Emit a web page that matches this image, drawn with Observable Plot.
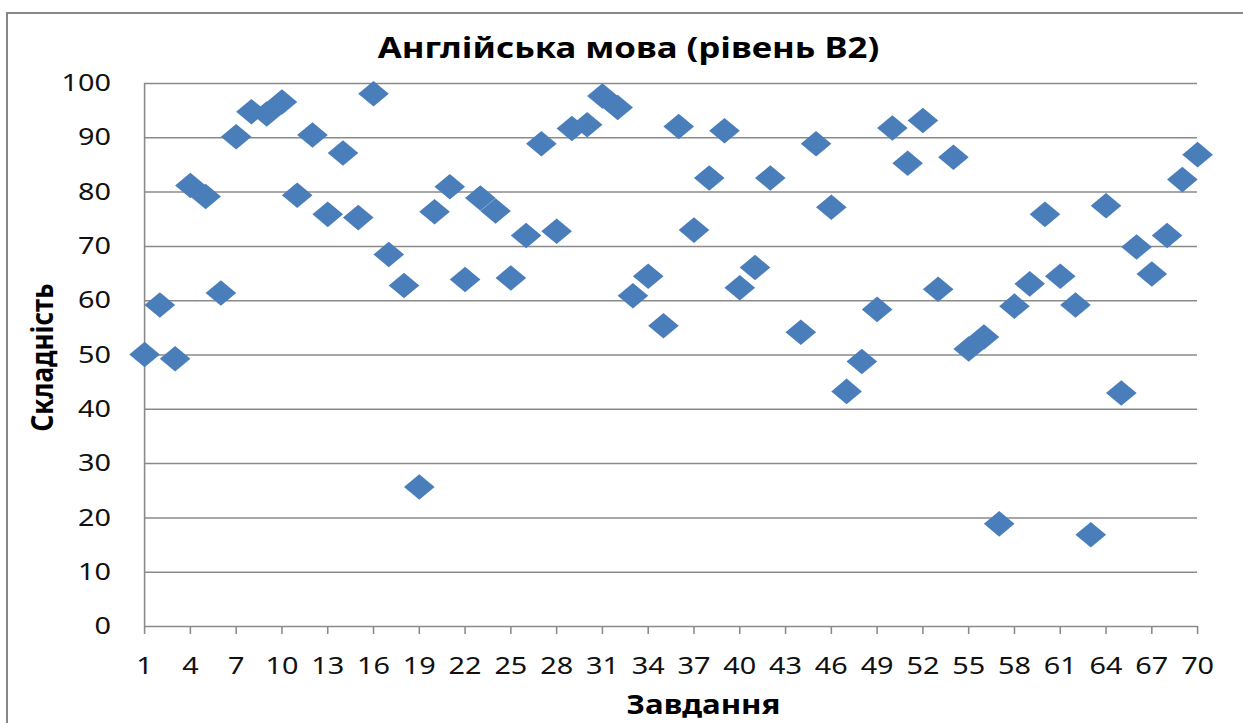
<!DOCTYPE html>
<html>
<head>
<meta charset="utf-8">
<script src="https://cdn.jsdelivr.net/npm/d3@7"></script>
<script src="https://cdn.jsdelivr.net/npm/@observablehq/plot@0.6"></script>
<style>
  html, body { margin: 0; padding: 0; background: #fff; overflow: hidden; }
  #frame { position: absolute; left: 6px; top: 12px; width: 1260px; height: 730px; z-index: 2;
           border-left: 2.5px solid #878787; border-top: 2.5px solid #878787; pointer-events: none; }
  #chart { position: absolute; left: 0; top: 0; width: 1036px; height: 723px; z-index: 1;
           transform: scaleX(1.2); transform-origin: 0 0; }
</style>
</head>
<body>
<div id="chart"></div>
<div id="frame"></div>
<script>
const chartTitle = "Англійська мова (рівень B2)";
const xTitle = "Завдання";
const yTitle = "Складність";

const values = [
  50.1, 59.2, 49.3, 81.2, 79.2, 61.4, 90.2, 94.8, 94.4, 96.6,
  79.4, 90.5, 75.9, 87.2, 75.3, 98.1, 68.5, 62.8, 25.7, 76.4,
  81.0, 63.9, 78.9, 76.5, 64.2, 72.0, 88.9, 72.8, 91.7, 92.4,
  97.7, 95.6, 60.9, 64.5, 55.4, 92.1, 73.0, 82.6, 91.3, 62.4,
  66.1, 82.6, null, 54.2, 88.9, 77.2, 43.3, 48.8, 58.4, 91.8,
  85.3, 93.2, 62.1, 86.4, 51.1, 53.3, 18.9, 59.0, 63.1, 75.9,
  64.5, 59.2, 16.9, 77.5, 43.0, 69.9, 64.9, 72.0, 82.3, 86.9
];
const tasks = values.map((_, i) => i + 1);

const xTicks = [1, 4, 7, 10, 13, 16, 19, 22, 25, 28, 31, 34, 37, 40, 43, 46, 49, 52, 55, 58, 61, 64, 67, 70];
const yTicks = [0, 10, 20, 30, 40, 50, 60, 70, 80, 90, 100];

const records = tasks.map((t, i) => ({task: t, value: values[i]})).filter(d => d.value != null);

const W = 1036, H = 723;
const chart = Plot.plot({
  width: W,
  height: H,
  marginLeft: 120,
  marginRight: W - 997.5,
  marginTop: 83,
  marginBottom: 97,
  x: {domain: [1, 70]},
  y: {domain: [0, 100]},
  style: {fontFamily: "'Noto Sans', 'Open Sans', 'DejaVu Sans', sans-serif", color: "#000", background: "#fff", overflow: "visible", maxWidth: "none"},
  marks: [
    Plot.ruleY(yTicks, {stroke: "#8a8a8a", strokeWidth: 1.5}),
    Plot.ruleX([1], {stroke: "#8a8a8a", strokeWidth: 1.3}),
    Plot.axisY(yTicks, {label: null, tickSize: 0, tickPadding: 28, fontSize: 24, fill: "#111"}),
    Plot.axisX(xTicks, {label: null, tickSize: 8, tickPadding: 22, fontSize: 24, stroke: "#8a8a8a", strokeWidth: 1.3, fill: "#111"}),
    Plot.dot(records, {x: "task", y: "value", symbol: "diamond2", r: 11.5, fill: "#4a7ebb"}),
    Plot.text([chartTitle], {frameAnchor: "top", textAnchor: "middle", lineAnchor: "middle", dx: -35.5, dy: -34.3, fontSize: 29, fontWeight: "bold", fill: "#000"}),
    Plot.text([xTitle], {frameAnchor: "bottom", textAnchor: "middle", lineAnchor: "middle", dx: 27, dy: 79, fontSize: 26, fontWeight: "bold", fill: "#000"}),
    Plot.text([yTitle], {frameAnchor: "left", textAnchor: "middle", lineAnchor: "middle", rotate: -90, dx: -85, dy: 2.5, fontSize: 26, fontWeight: "bold", fill: "#000"})
  ]
});
document.getElementById("chart").appendChild(chart);
</script>
</body>
</html>
